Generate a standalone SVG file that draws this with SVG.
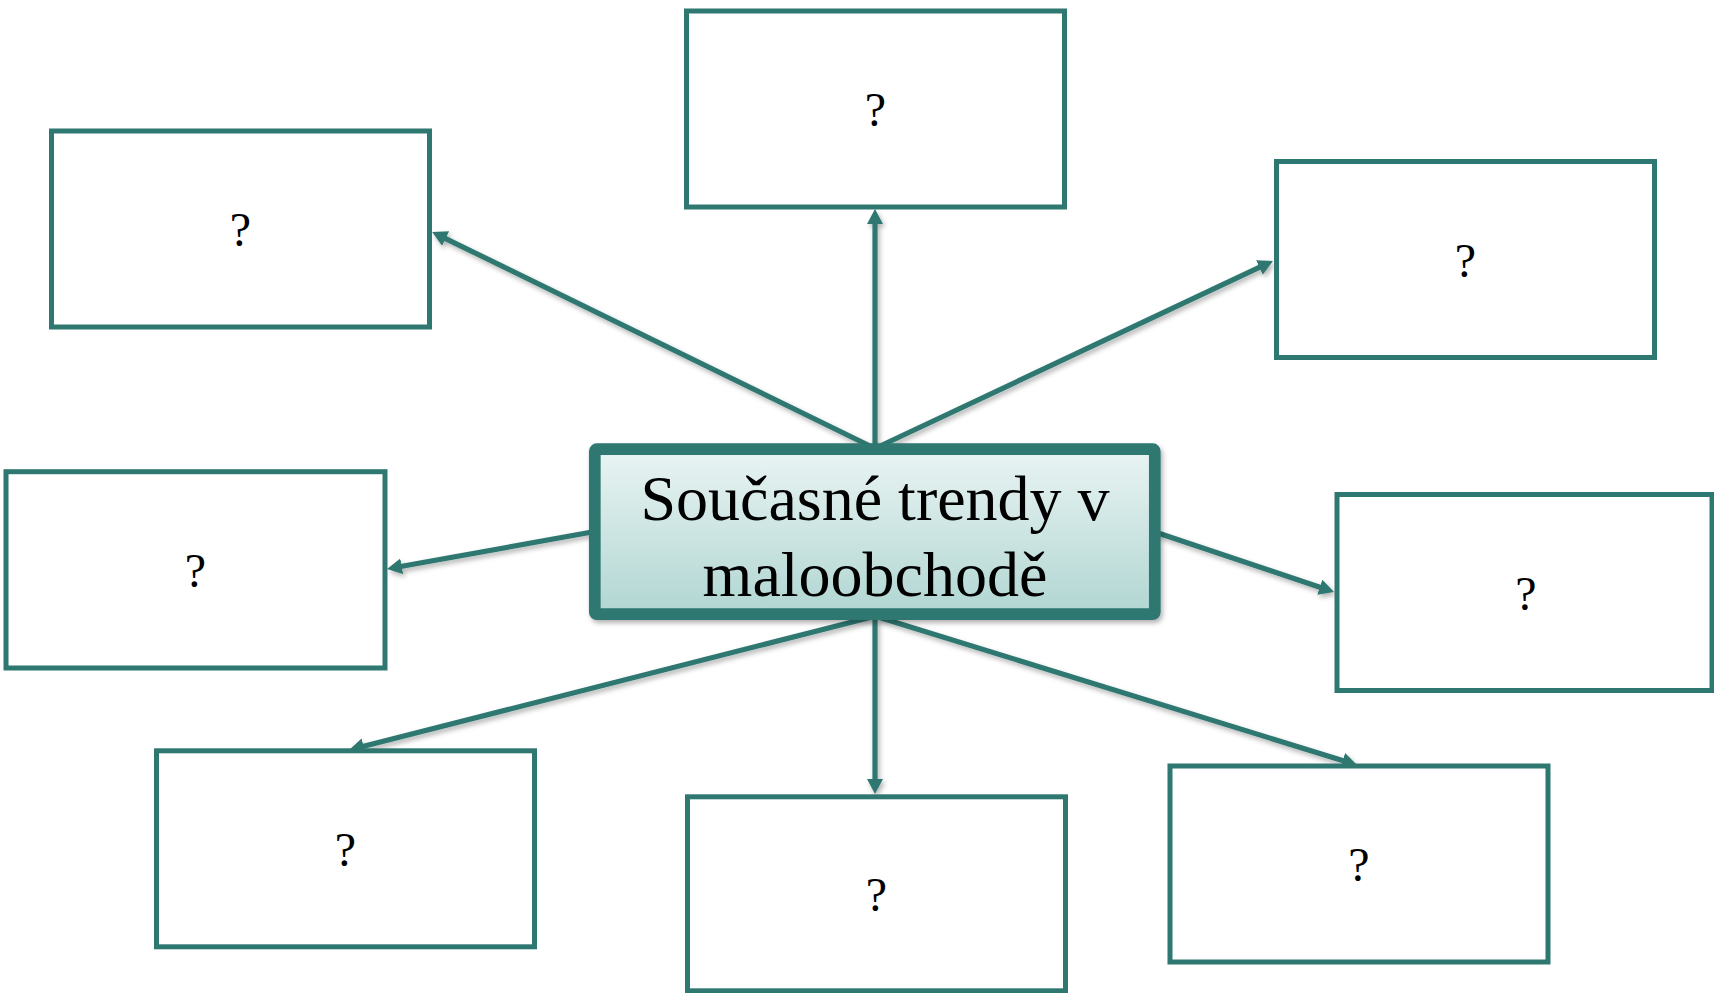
<svg xmlns="http://www.w3.org/2000/svg" width="1714" height="993" viewBox="0 0 1714 993">
<defs>
<style>
.box{fill:#ffffff;stroke:#2f7871;stroke-width:5}
.q{font-family:"Liberation Serif","Times New Roman",serif;font-size:48px;fill:#000;text-anchor:middle}
.title{font-family:"Liberation Serif","Times New Roman",serif;font-size:64px;fill:#000;text-anchor:middle}
.conn{stroke:#2f7871;stroke-width:5.2;fill:none;marker-end:url(#arrow)}
</style>
<linearGradient id="grad" x1="0" y1="0" x2="0" y2="1">
<stop offset="0" stop-color="#e9f4f3"/>
<stop offset="1" stop-color="#b1d6d2"/>
</linearGradient>
<filter id="shadow" x="-10%" y="-10%" width="120%" height="130%">
<feDropShadow dx="2" dy="3" stdDeviation="2.5" flood-color="#000" flood-opacity="0.3"/>
</filter>
<marker id="arrow" markerUnits="userSpaceOnUse" markerWidth="17" markerHeight="17" refX="4" refY="8" orient="auto">
<path d="M0,0 L15,8 L0,16 z" fill="#2f7871"/>
</marker>
</defs>
<rect width="1714" height="993" fill="#ffffff"/>

<g id="connectors" filter="url(#shadow)">
<line class="conn" x1="872" y1="447" x2="442" y2="236.8"/>
<line class="conn" x1="875" y1="447" x2="875" y2="220"/>
<line class="conn" x1="878" y1="447" x2="1263" y2="265.7"/>
<line class="conn" x1="592" y1="532" x2="397.8" y2="567"/>
<line class="conn" x1="1158" y1="533" x2="1323.6" y2="588.5"/>
<line class="conn" x1="872" y1="617" x2="359.7" y2="747.3"/>
<line class="conn" x1="875" y1="617" x2="875" y2="783"/>
<line class="conn" x1="878" y1="617" x2="1346.5" y2="761.7"/>
</g>

<g id="center">
<rect x="594.8" y="449.2" width="560" height="165" rx="2" fill="url(#grad)" stroke="#2f7871" stroke-width="11.7" stroke-linejoin="round" filter="url(#shadow)"/>
<text class="title" x="875" y="520">Současné trendy v</text>
<text class="title" x="875" y="596">maloobchodě</text>
</g>

<g id="box-top-left">
<rect class="box" x="51.5" y="131" width="378" height="196"/>
<text class="q" x="240.5" y="246">?</text>
</g>
<g id="box-top">
<rect class="box" x="686.5" y="11" width="378" height="196"/>
<text class="q" x="875.5" y="126">?</text>
</g>
<g id="box-top-right">
<rect class="box" x="1276.5" y="161.5" width="378" height="196"/>
<text class="q" x="1465.5" y="276.5">?</text>
</g>
<g id="box-mid-left">
<rect class="box" x="6" y="471.7" width="379" height="196.3"/>
<text class="q" x="195.5" y="587">?</text>
</g>
<g id="box-mid-right">
<rect class="box" x="1337" y="494.5" width="375" height="196"/>
<text class="q" x="1526" y="609.5">?</text>
</g>
<g id="box-bottom-left">
<rect class="box" x="156.5" y="750.8" width="378" height="196"/>
<text class="q" x="345.5" y="865.8">?</text>
</g>
<g id="box-bottom">
<rect class="box" x="687.5" y="796.8" width="378" height="194"/>
<text class="q" x="876.5" y="910.8">?</text>
</g>
<g id="box-bottom-right">
<rect class="box" x="1170" y="766" width="378" height="196"/>
<text class="q" x="1359" y="881">?</text>
</g>
</svg>
